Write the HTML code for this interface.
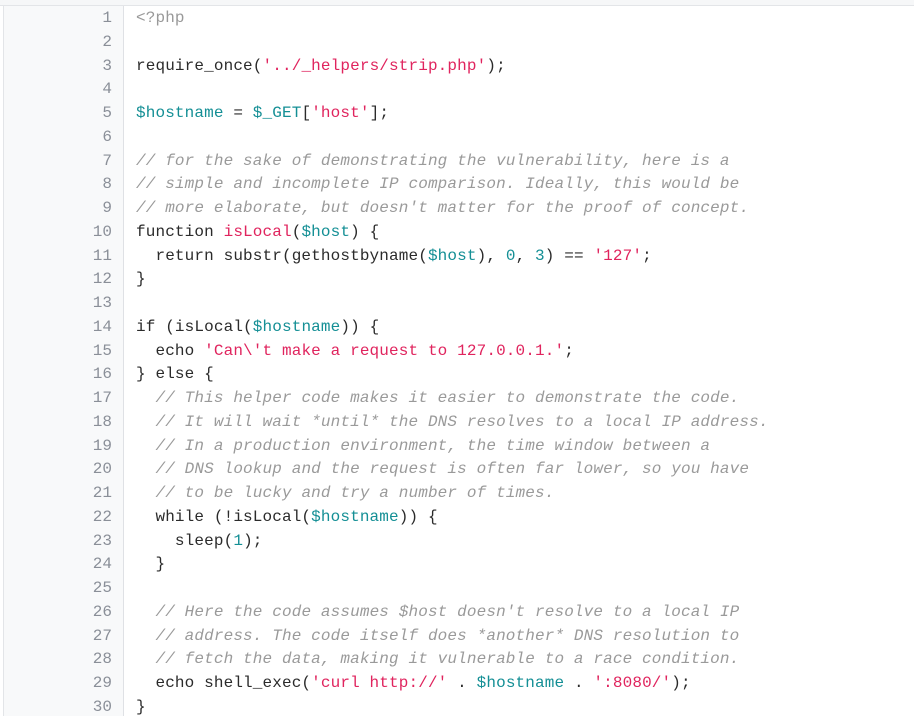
<!DOCTYPE html>
<html><head><meta charset="utf-8"><style>
body{margin:0;width:914px;height:710px;overflow:hidden;background:#fff;font-family:"Liberation Mono",monospace;}
.top{position:absolute;left:0;top:0;width:914px;height:5px;background:#f6f7f8;border-bottom:1px solid #e3e5e8;}
.gut{position:absolute;left:3px;top:6px;width:119px;height:710px;background:#f8f9fa;border-left:1px solid #e3e5e8;border-right:1px solid #dfe1e5;}
.ln{position:absolute;left:0;width:112px;text-align:right;color:#8a8f98;font-size:16px;line-height:23.75px;}
.code{position:absolute;left:136px;top:7px;font-size:16px;line-height:23.75px;color:#2b2b2b;white-space:pre;letter-spacing:0.13px;}
.s{color:#e0245e}.v{color:#148f95}.c{color:#9a9a9a;font-style:italic}.n{color:#148f95}.g{color:#999}
</style></head><body>
<div class="top"></div><div class="gut"></div>
<div class="ln" style="top:7px">1<br>2<br>3<br>4<br>5<br>6<br>7<br>8<br>9<br>10<br>11<br>12<br>13<br>14<br>15<br>16<br>17<br>18<br>19<br>20<br>21<br>22<br>23<br>24<br>25<br>26<br>27<br>28<br>29<br>30</div>
<div class="code"><span class="g">&lt;?php</span>

require_once(<span class="s">'../_helpers/strip.php'</span>);

<span class="v">$hostname</span> = <span class="v">$_GET</span>[<span class="s">'host'</span>];

<span class="c">// for the sake of demonstrating the vulnerability, here is a</span>
<span class="c">// simple and incomplete IP comparison. Ideally, this would be</span>
<span class="c">// more elaborate, but doesn't matter for the proof of concept.</span>
function <span class="s">isLocal</span>(<span class="v">$host</span>) {
  return substr(gethostbyname(<span class="v">$host</span>), <span class="n">0</span>, <span class="n">3</span>) == <span class="s">'127'</span>;
}

if (isLocal(<span class="v">$hostname</span>)) {
  echo <span class="s">'Can\'t make a request to 127.0.0.1.'</span>;
} else {
  <span class="c">// This helper code makes it easier to demonstrate the code.</span>
  <span class="c">// It will wait *until* the DNS resolves to a local IP address.</span>
  <span class="c">// In a production environment, the time window between a</span>
  <span class="c">// DNS lookup and the request is often far lower, so you have</span>
  <span class="c">// to be lucky and try a number of times.</span>
  while (!isLocal(<span class="v">$hostname</span>)) {
    sleep(<span class="n">1</span>);
  }

  <span class="c">// Here the code assumes $host doesn't resolve to a local IP</span>
  <span class="c">// address. The code itself does *another* DNS resolution to</span>
  <span class="c">// fetch the data, making it vulnerable to a race condition.</span>
  echo shell_exec(<span class="s">'curl http://'</span> . <span class="v">$hostname</span> . <span class="s">':8080/'</span>);
}</div>
</body></html>
